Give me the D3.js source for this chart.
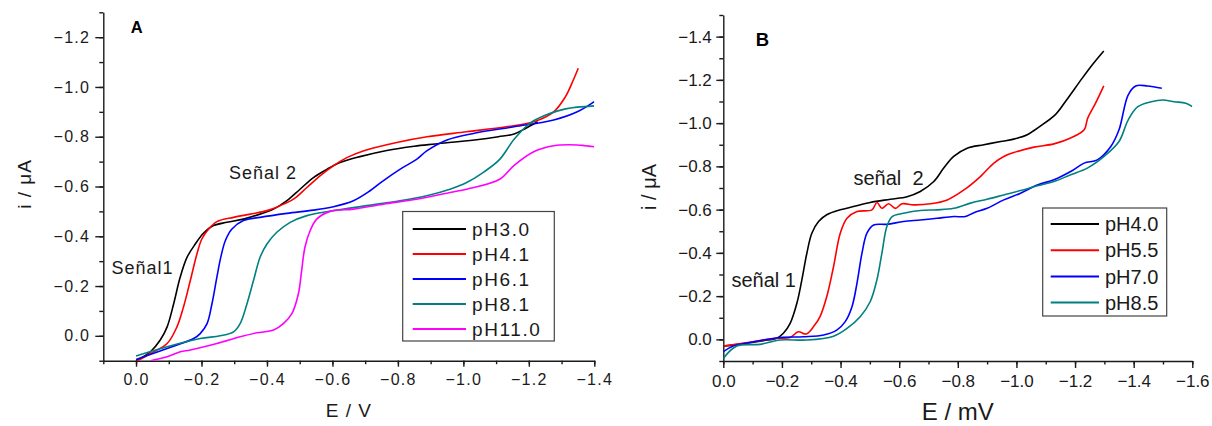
<!DOCTYPE html>
<html>
<head>
<meta charset="utf-8">
<script src="https://cdn.jsdelivr.net/npm/d3@7"></script>
<style>
  body { margin: 0; background: #fff; }
  svg { display: block; font-family: "Liberation Sans", Arial, sans-serif; }
</style>
</head>
<body>
<svg id="chart" width="1212" height="426"></svg>
<script>
// --- panel A : E / V
const xTicksA = [0, -0.2, -0.4, -0.6, -0.8, -1.0, -1.2, -1.4];
const yTicksA = [0, -0.2, -0.4, -0.6, -0.8, -1.0, -1.2];
const namesA = ['pH3.0', 'pH4.1', 'pH6.1', 'pH8.1', 'pH11.0'];
const colorsA = ['#000000', '#ff0000', '#0000ff', '#008080', '#ff00ff'];

const a_pH30 = [[0,0.1],[-0.044,0.064],[-0.074,0.017],[-0.095,-0.036],[-0.115,-0.129],[-0.135,-0.236],
  [-0.156,-0.316],[-0.181,-0.369],[-0.206,-0.412],[-0.237,-0.443],[-0.278,-0.456],[-0.328,-0.469],
  [-0.379,-0.489],[-0.42,-0.509],[-0.461,-0.543],[-0.501,-0.589],[-0.542,-0.636],[-0.583,-0.669],
  [-0.623,-0.696],[-0.684,-0.72],[-0.766,-0.745],[-0.85,-0.762],[-0.914,-0.771],[-1.034,-0.787],
  [-1.107,-0.8],[-1.155,-0.811],[-1.191,-0.834],[-1.227,-0.86]];
const a_pH41 = [[0,0.104],[-0.044,0.071],[-0.095,0.031],[-0.125,-0.036],[-0.145,-0.116],[-0.166,-0.223],
  [-0.186,-0.329],[-0.201,-0.389],[-0.222,-0.429],[-0.247,-0.459],[-0.298,-0.476],[-0.349,-0.489],
  [-0.4,-0.503],[-0.44,-0.523],[-0.481,-0.549],[-0.522,-0.596],[-0.562,-0.643],[-0.603,-0.683],
  [-0.644,-0.716],[-0.694,-0.743],[-0.793,-0.776],[-0.889,-0.8],[-1.01,-0.82],[-1.131,-0.84],
  [-1.215,-0.86],[-1.276,-0.9],[-1.312,-0.961],[-1.336,-1.028],[-1.351,-1.075]];
const a_pH61 = [[0,0.095],[-0.095,0.051],[-0.176,0.011],[-0.196,-0.009],[-0.217,-0.049],[-0.232,-0.129],
  [-0.247,-0.236],[-0.259,-0.316],[-0.273,-0.383],[-0.293,-0.429],[-0.328,-0.463],[-0.379,-0.476],
  [-0.461,-0.492],[-0.542,-0.505],[-0.603,-0.519],[-0.664,-0.543],[-0.715,-0.583],[-0.755,-0.623],
  [-0.806,-0.669],[-0.857,-0.709],[-0.888,-0.743],[-0.95,-0.787],[-1.034,-0.814],[-1.155,-0.84],
  [-1.276,-0.867],[-1.348,-0.9],[-1.4,-0.941]];
const a_pH81 = [[0,0.081],[-0.095,0.044],[-0.196,0.011],[-0.257,0],[-0.298,-0.016],[-0.318,-0.049],
  [-0.339,-0.129],[-0.359,-0.223],[-0.379,-0.316],[-0.4,-0.369],[-0.43,-0.416],[-0.471,-0.456],
  [-0.522,-0.483],[-0.603,-0.503],[-0.705,-0.523],[-0.806,-0.543],[-0.888,-0.563],[-0.959,-0.589],
  [-1.01,-0.616],[-1.06,-0.656],[-1.111,-0.709],[-1.155,-0.79],[-1.203,-0.854],[-1.252,-0.887],
  [-1.312,-0.912],[-1.4,-0.924]];
const a_pH110 = [[-0.044,0.1],[-0.095,0.084],[-0.135,0.064],[-0.166,0.057],[-0.247,0.031],[-0.318,0.004],
  [-0.369,-0.012],[-0.42,-0.023],[-0.45,-0.049],[-0.476,-0.089],[-0.496,-0.169],[-0.506,-0.263],
  [-0.516,-0.356],[-0.532,-0.423],[-0.552,-0.469],[-0.593,-0.5],[-0.664,-0.509],[-0.755,-0.529],
  [-0.857,-0.549],[-0.959,-0.576],[-1.01,-0.589],[-1.111,-0.629],[-1.155,-0.685],[-1.215,-0.74],
  [-1.276,-0.764],[-1.348,-0.767],[-1.372,-0.764],[-1.4,-0.76]];

// --- panel B : E / mV
const xTicksB = [0, -0.2, -0.4, -0.6, -0.8, -1.0, -1.2, -1.4, -1.6];
const yTicksB = [0, -0.2, -0.4, -0.6, -0.8, -1.0, -1.2, -1.4];
const namesB = ['pH4.0', 'pH5.5', 'pH7.0', 'pH8.5'];
const colorsB = ['#000000', '#ff0000', '#0000ff', '#008080'];

const b_pH40 = [[0,0.031],[-0.057,0.022],[-0.137,0.006],[-0.182,-0.005],[-0.205,-0.028],[-0.228,-0.074],
  [-0.251,-0.167],[-0.268,-0.275],[-0.285,-0.398],[-0.302,-0.491],[-0.325,-0.545],[-0.353,-0.576],
  [-0.399,-0.599],[-0.444,-0.614],[-0.501,-0.633],[-0.57,-0.648],[-0.627,-0.66],[-0.672,-0.684],
  [-0.718,-0.73],[-0.752,-0.792],[-0.786,-0.846],[-0.832,-0.884],[-0.889,-0.9],[-0.946,-0.915],
  [-0.991,-0.926],[-1.037,-0.946],[-1.06,-0.966],[-1.079,-0.984],[-1.132,-1.038],[-1.171,-1.107],
  [-1.224,-1.207],[-1.263,-1.277],[-1.298,-1.334]];
const b_pH55 = [[0,0.031],[-0.103,0.011],[-0.182,-0.005],[-0.228,-0.009],[-0.256,-0.035],[-0.283,-0.025],
  [-0.308,-0.059],[-0.33,-0.105],[-0.353,-0.198],[-0.376,-0.336],[-0.399,-0.491],[-0.422,-0.56],
  [-0.456,-0.591],[-0.507,-0.599],[-0.524,-0.633],[-0.541,-0.606],[-0.564,-0.627],[-0.587,-0.606],
  [-0.61,-0.627],[-0.65,-0.622],[-0.707,-0.627],[-0.764,-0.645],[-0.821,-0.691],[-0.877,-0.753],
  [-0.923,-0.815],[-0.957,-0.846],[-0.991,-0.864],[-1.06,-0.889],[-1.128,-0.904],[-1.185,-0.931],
  [-1.231,-0.969],[-1.243,-1.022],[-1.27,-1.092],[-1.298,-1.172]];
const b_pH70 = [[0,0.057],[-0.034,0.031],[-0.103,0.011],[-0.194,-0.009],[-0.274,-0.012],[-0.342,-0.02],
  [-0.387,-0.043],[-0.416,-0.082],[-0.439,-0.151],[-0.456,-0.259],[-0.473,-0.398],[-0.49,-0.491],
  [-0.513,-0.529],[-0.558,-0.532],[-0.615,-0.545],[-0.672,-0.552],[-0.729,-0.56],[-0.786,-0.568],
  [-0.826,-0.568],[-0.855,-0.586],[-0.9,-0.606],[-0.957,-0.645],[-1.014,-0.676],[-1.071,-0.714],
  [-1.128,-0.738],[-1.185,-0.776],[-1.231,-0.815],[-1.276,-0.83],[-1.322,-0.892],[-1.35,-0.969],
  [-1.381,-1.13],[-1.407,-1.172],[-1.447,-1.172],[-1.496,-1.161]];
const b_pH85 = [[0,0.088],[-0.046,0.031],[-0.125,0.023],[-0.194,0.003],[-0.285,0.003],[-0.376,-0.015],
  [-0.422,-0.051],[-0.467,-0.105],[-0.501,-0.174],[-0.524,-0.275],[-0.541,-0.398],[-0.558,-0.522],
  [-0.576,-0.568],[-0.615,-0.583],[-0.672,-0.596],[-0.729,-0.599],[-0.786,-0.606],[-0.843,-0.63],
  [-0.9,-0.648],[-0.957,-0.668],[-1.014,-0.688],[-1.071,-0.71],[-1.128,-0.73],[-1.185,-0.761],
  [-1.242,-0.792],[-1.299,-0.846],[-1.35,-0.915],[-1.381,-1.014],[-1.414,-1.076],[-1.46,-1.099],
  [-1.499,-1.107],[-1.538,-1.099],[-1.578,-1.092],[-1.6,-1.076]];

const svg = d3.select('#chart');
const fmt = d3.format('.1f');
const ink = '#1a1a1a';

function drawPanel(cfg) {
    const x = d3.scaleLinear().domain(cfg.xDomain).range(cfg.xRange);
    const y = d3.scaleLinear().domain(cfg.yDomain).range(cfg.yRange);
    const g = svg.append('g').attr('id', cfg.id);

    g.append('clipPath').attr('id', cfg.id + '-clip')
        .append('rect')
        .attr('x', cfg.xRange[0]).attr('y', cfg.yRange[1])
        .attr('width', cfg.xRange[1] - cfg.xRange[0])
        .attr('height', cfg.yRange[0] - cfg.yRange[1]);

    // minor ticks every 0.1
    const minorX = d3.range(Math.round(cfg.xDomain[0] * 10), Math.round(cfg.xDomain[1] * 10) - 1, -1).map(v => v / 10);
    const minorY = d3.range(Math.round(cfg.yDomain[0] * 10), Math.round(cfg.yDomain[1] * 10) - 1, -1).map(v => v / 10);

    g.append('g')
        .attr('transform', `translate(0,${cfg.yRange[0]})`)
        .call(d3.axisBottom(x).tickValues(minorX).tickSize(3.5).tickFormat(''))
        .call(a => a.select('.domain').remove());
    g.append('g')
        .attr('transform', `translate(${cfg.xRange[0]},0)`)
        .call(d3.axisLeft(y).tickValues(minorY).tickSize(4).tickFormat(''))
        .call(a => a.select('.domain').remove());

    const xAxis = g.append('g')
        .attr('transform', `translate(0,${cfg.yRange[0]})`)
        .call(d3.axisBottom(x).tickValues(cfg.xTicks).tickSize(cfg.xTickSize)
            .tickPadding(cfg.xPad).tickSizeOuter(0).tickFormat(fmt));
    const yAxis = g.append('g')
        .attr('transform', `translate(${cfg.xRange[0]},0)`)
        .call(d3.axisLeft(y).tickValues(cfg.yTicks).tickSize(cfg.yTickSize)
            .tickPadding(cfg.yPad).tickSizeOuter(0).tickFormat(fmt));

    [xAxis, yAxis].forEach(a => {
        a.selectAll('path, line').attr('stroke', ink).attr('stroke-width', 1.4);
        a.selectAll('text')
            .attr('fill', ink)
            .style('font-size', cfg.tickFont + 'px')
            .style('letter-spacing', cfg.tickSpacing + 'px');
    });
    g.selectAll('.tick line').attr('stroke', ink).attr('stroke-width', 1.4);

    // curves
    const line = d3.line()
        .x(d => x(d[0]))
        .y(d => y(d[1]))
        .curve(d3.curveCatmullRom.alpha(0.5));
    g.append('g')
        .attr('clip-path', `url(#${cfg.id}-clip)`)
        .selectAll('path')
        .data(cfg.series)
        .join('path')
        .attr('fill', 'none')
        .attr('stroke', (d, i) => cfg.colors[i])
        .attr('stroke-width', 1.6)
        .attr('d', line);

    // legend
    const lg = cfg.legend;
    g.append('rect')
        .attr('x', lg.x).attr('y', lg.y)
        .attr('width', lg.w).attr('height', lg.h)
        .attr('fill', '#fff').attr('stroke', '#444').attr('stroke-width', 1.2);
    const rows = g.selectAll('.legend-row')
        .data(cfg.names)
        .join('g')
        .attr('class', 'legend-row')
        .attr('transform', (d, i) => `translate(0,${lg.row0 + i * lg.step})`);
    rows.append('line')
        .attr('x1', lg.lineX0).attr('x2', lg.lineX1)
        .attr('stroke', (d, i) => cfg.colors[i])
        .attr('stroke-width', 2);
    rows.append('text')
        .attr('x', lg.textX).attr('dy', '0.36em')
        .attr('fill', ink)
        .style('font-size', lg.font + 'px')
        .style('letter-spacing', lg.spacing + 'px')
        .text(d => d);

    // panel letter
    g.append('text')
        .attr('x', cfg.letter.x).attr('y', cfg.letter.y)
        .attr('fill', '#000')
        .style('font-weight', 'bold')
        .style('font-size', cfg.letter.size + 'px')
        .text(cfg.letter.text);

    // axis titles
    g.append('text')
        .attr('x', (cfg.xRange[0] + cfg.xRange[1]) / 2)
        .attr('y', cfg.xTitle.y)
        .attr('text-anchor', 'middle')
        .attr('fill', ink)
        .style('font-size', cfg.xTitle.size + 'px')
        .style('letter-spacing', cfg.xTitle.spacing + 'px')
        .text(cfg.xTitle.text);
    g.append('text')
        .attr('transform', `translate(${cfg.yTitle.x},${cfg.yTitle.y}) rotate(-90)`)
        .attr('text-anchor', 'middle')
        .attr('dy', '0.36em')
        .attr('fill', ink)
        .style('font-size', cfg.yTitle.size + 'px')
        .style('letter-spacing', cfg.yTitle.spacing + 'px')
        .text('i / \u03bcA');

    // notes
    cfg.notes.forEach(n => {
        g.append('text')
            .attr('x', n.x).attr('y', n.y)
            .attr('fill', ink)
            .style('font-size', n.size + 'px')
            .style('letter-spacing', n.spacing + 'px')
            .style('white-space', 'pre')
            .text(n.text);
    });
}

drawPanel({
    id: 'panelA',
    xDomain: [0.1, -1.4], xRange: [103.3, 594.3],
    yDomain: [0.1, -1.3], yRange: [360.7, 12.3],
    xTicks: xTicksA, yTicks: yTicksA,
    xTickSize: 6, xPad: 7, yTickSize: 8, yPad: 5,
    tickFont: 16, tickSpacing: 1.3,
    series: [a_pH30, a_pH41, a_pH61, a_pH81, a_pH110],
    names: namesA, colors: colorsA,
    legend: {x: 402.7, y: 211.5, w: 151.6, h: 129.5, row0: 229, step: 25,
             lineX0: 412.7, lineX1: 466, textX: 472, font: 19, spacing: 1.6},
    letter: {text: 'A', x: 130.7, y: 32.7, size: 16.5},
    xTitle: {text: 'E / V', y: 417, size: 19, spacing: 1},
    yTitle: {x: 23.7, y: 184, size: 19, spacing: 1},
    notes: [
        {text: 'Señal 2', x: 229, y: 179, size: 18, spacing: 1},
        {text: 'Señal1', x: 111.5, y: 274, size: 18, spacing: 1}
    ]
});

drawPanel({
    id: 'panelB',
    xDomain: [0, -1.6], xRange: [723.3, 1192.3],
    yDomain: [0.1, -1.5], yRange: [361, 15],
    xTicks: xTicksB, yTicks: yTicksB,
    xTickSize: 7, xPad: 6.5, yTickSize: 7, yPad: 4.5,
    tickFont: 17, tickSpacing: 0,
    series: [b_pH40, b_pH55, b_pH70, b_pH85],
    names: namesB, colors: colorsB,
    legend: {x: 1042.7, y: 208, w: 124, h: 108, row0: 224, step: 26.2,
             lineX0: 1050.7, lineX1: 1099, textX: 1105, font: 20, spacing: 0},
    letter: {text: 'B', x: 755.7, y: 45.7, size: 18.5},
    xTitle: {text: 'E / mV', y: 420, size: 24, spacing: 0},
    yTitle: {x: 648.5, y: 187, size: 20, spacing: 0},
    notes: [
        {text: 'señal  2', x: 853.5, y: 185, size: 20, spacing: 0},
        {text: 'señal 1', x: 731.5, y: 287, size: 20, spacing: 0}
    ]
});
</script>
</body>
</html>
